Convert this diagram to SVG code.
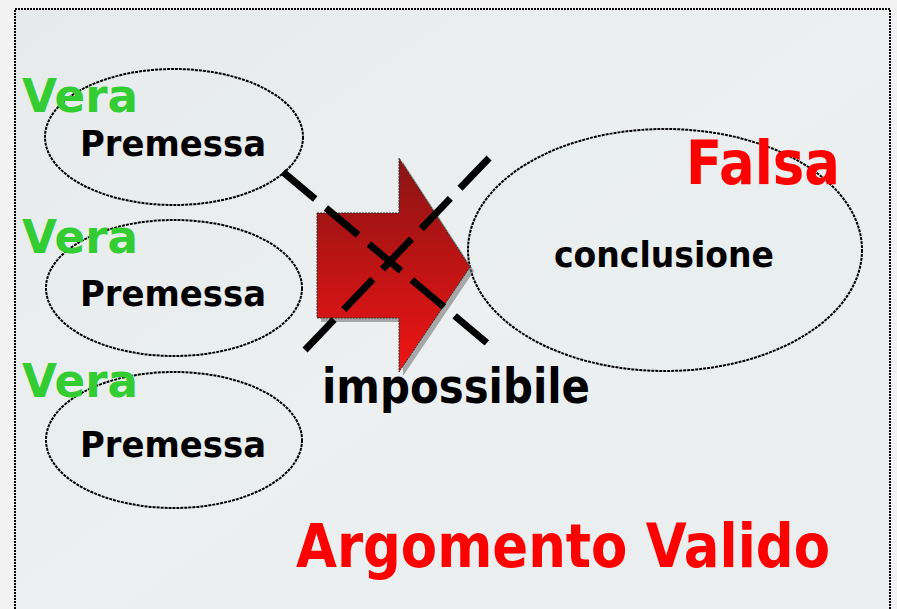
<svg xmlns="http://www.w3.org/2000/svg" width="897" height="609" viewBox="0 0 897 609">
<defs>
<linearGradient id="bg" x1="0" y1="0" x2="1" y2="1">
<stop offset="0" stop-color="#e6eaeb"/>
<stop offset="0.5" stop-color="#edf0f0"/>
<stop offset="1" stop-color="#e9eded"/>
</linearGradient>
<linearGradient id="arrowGrad" x1="0" y1="0" x2="0" y2="1">
<stop offset="0" stop-color="#8a1414"/>
<stop offset="1" stop-color="#f01414"/>
</linearGradient>
<style>
.node { fill: #e8ecec; fill-opacity: 0.6; stroke: #000; stroke-width: 2; stroke-dasharray: 3 1; }
.t { font-family: "Comic Sans MS", "DejaVu Sans", sans-serif; font-weight: bold; }
.prem { font-size: 36px; fill: #000; }
.vera { font-size: 46px; fill: #33cc33; }
.red { fill: #ff0000; }
.cross { stroke: #000; stroke-width: 7; stroke-dasharray: 42 14; fill: none; }
</style>
</defs>
<rect x="0" y="0" width="897" height="609" fill="#f2f2f2"/>
<rect x="15" y="9" width="875" height="610" fill="url(#bg)" stroke="#000" stroke-width="2" stroke-dasharray="2 1"/>

<g id="premessa1">
<ellipse class="node" cx="174" cy="137" rx="129" ry="68"/>
<text class="t prem" x="80" y="156" textLength="186" lengthAdjust="spacingAndGlyphs">Premessa</text>
</g>
<g id="premessa2">
<ellipse class="node" cx="174" cy="288" rx="128" ry="68"/>
<text class="t prem" x="80" y="306" textLength="186" lengthAdjust="spacingAndGlyphs">Premessa</text>
</g>
<g id="premessa3">
<ellipse class="node" cx="174" cy="440" rx="128" ry="68"/>
<text class="t prem" x="80" y="457" textLength="186" lengthAdjust="spacingAndGlyphs">Premessa</text>
</g>
<g id="vera-labels">
<text class="t vera" x="22" y="112" textLength="116" lengthAdjust="spacingAndGlyphs">Vera</text>
<text class="t vera" x="22" y="253" textLength="116" lengthAdjust="spacingAndGlyphs">Vera</text>
<text class="t vera" x="22" y="397" textLength="116" lengthAdjust="spacingAndGlyphs">Vera</text>
</g>
<g id="conclusione">
<ellipse class="node" cx="665" cy="250" rx="197" ry="121" stroke-width="1.5"/>
<text class="t" x="554" y="267" font-size="36" fill="#000" textLength="220" lengthAdjust="spacingAndGlyphs">conclusione</text>
<text class="t red" x="686" y="184" font-size="60" textLength="154" lengthAdjust="spacingAndGlyphs">Falsa</text>
</g>

<g id="connectors">
<polygon points="321,217 403,217 403,162 474,271 403,376 403,322 321,322" fill="#777" opacity="0.6"/>
<polygon points="317,213 399,213 399,158 470,267 399,372 399,318 317,318" fill="url(#arrowGrad)" stroke="#333" stroke-width="1" stroke-dasharray="2 1"/>
<line class="cross" x1="283" y1="172" x2="487" y2="343"/>
<line class="cross" x1="305" y1="350" x2="490" y2="157"/>
</g>

<text class="t" x="322" y="403" font-size="48" fill="#000" textLength="268" lengthAdjust="spacingAndGlyphs">impossibile</text>
<text class="t red" x="296" y="567" font-size="60" textLength="534" lengthAdjust="spacingAndGlyphs">Argomento Valido</text>
</svg>
